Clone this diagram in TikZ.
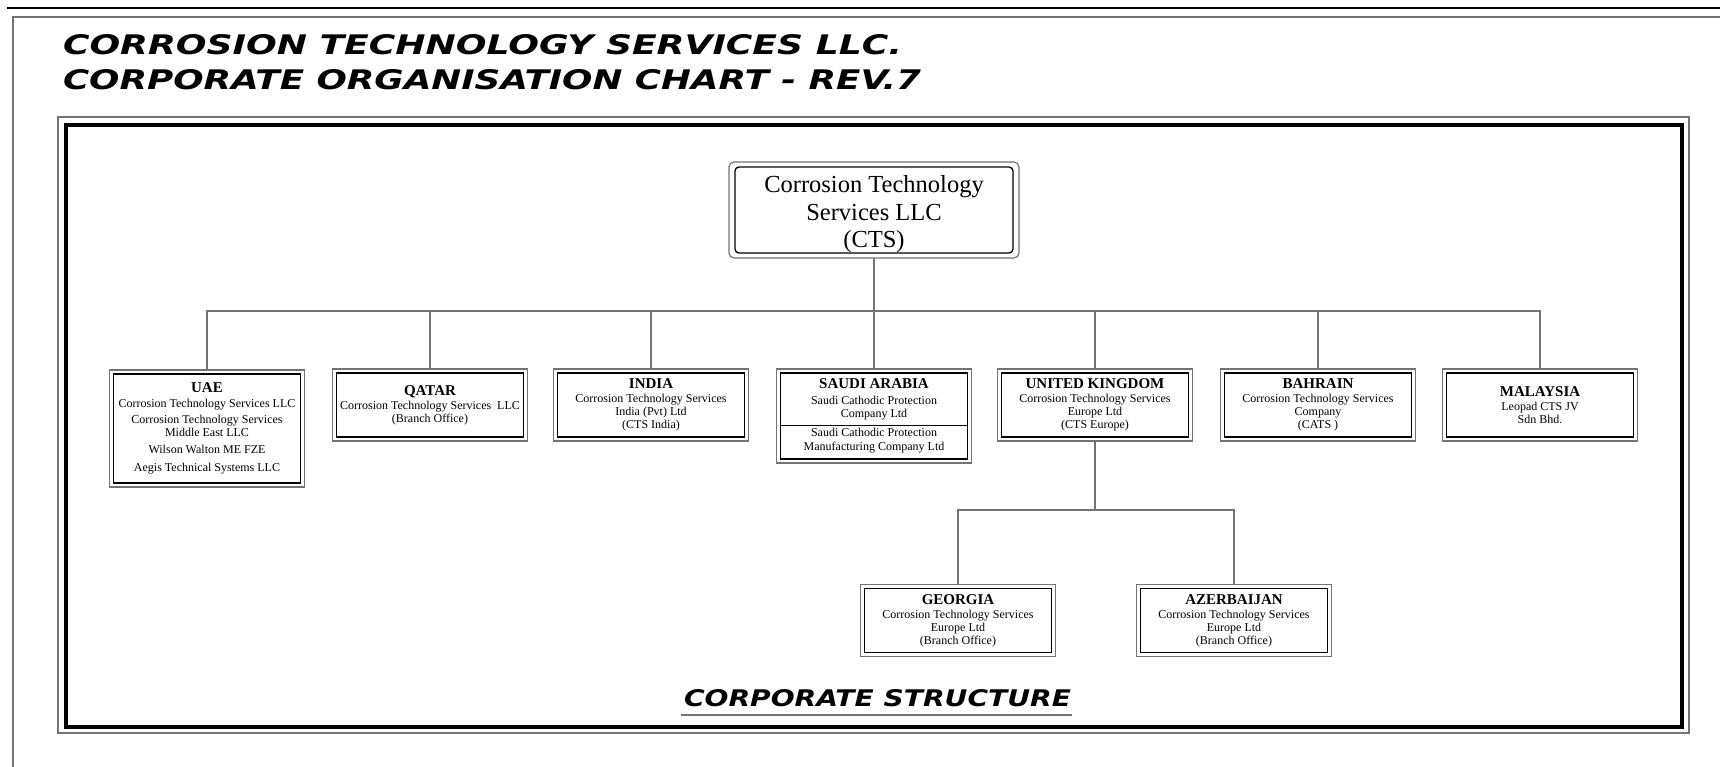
\documentclass[tikz,border=0pt]{standalone}
\usepackage{fontspec}
\usepackage{graphicx}
\setmainfont{Liberation Serif}
\newfontfamily\bannerfont{DejaVu Sans}
\colorlet{edge}{black!55}
\newcommand{\cname}[1]{{\fontsize{15}{16}\selectfont\bfseries #1}}

\begin{document}
\begin{tikzpicture}[x=1pt, y=-1pt,
	unit/.style={draw=edge, line width=1.2pt, minimum width=195pt, minimum height=72pt, inner sep=2pt, outer sep=0pt, align=center, font=\fontsize{12}{13}\selectfont},
	link/.style={draw=edge, line width=1.2pt},
	banner/.style={anchor=base west, inner sep=0pt, outer sep=0pt, font=\bannerfont\bfseries\itshape}]

	\useasboundingbox (0,0) rectangle (1720,767);

	% page frame
	\draw[line width=1.8pt] (7,8) -- (1720,8);
	\draw[edge, line width=1.4pt] (13,767) -- (13,17) -- (1720,17);

	\node[banner] (head1) at (63,55) {\resizebox{839pt}{20pt}{CORROSION TECHNOLOGY SERVICES LLC.}};
	\node[banner] (head2) at (63,90) {\resizebox{858pt}{20pt}{CORPORATE ORGANISATION CHART - REV.7}};

	% chart frame
	\draw[edge, line width=1.4pt] (58,117) rectangle (1689,733);
	\draw[line width=4.5pt] (66,125) rectangle (1682,727);

	\node[unit, rounded corners=5pt, minimum width=290pt, minimum height=96pt, font=\fontsize{24.5}{27.5}\selectfont] (cts) at (874,210) {\rule{0pt}{26pt}Corrosion Technology\\ Services LLC\\ (CTS)};
	\draw[line width=1.3pt, rounded corners=4pt] ([shift={(6pt,-5pt)}]cts.north west) rectangle ([shift={(-6pt,5pt)}]cts.south east);

	\node[unit, minimum height=117pt] (uae) at (207,428.5) {\cname{UAE}\\[2pt] Corrosion Technology Services LLC\\[3pt] Corrosion Technology Services\\ Middle East LLC\\[4pt] Wilson Walton ME FZE\\[5pt] Aegis Technical Systems LLC};
	\node[unit] (qatar) at (430,405) {\cname{QATAR}\\[1pt] Corrosion Technology Services~ LLC\\ (Branch Office)};
	\node[unit] (india) at (651,405) {\cname{INDIA}\\[1pt] Corrosion Technology Services\\ India (Pvt) Ltd\\ (CTS India)};
	\node[unit, minimum height=94pt] (saudi) at (874,416) {\cname{SAUDI ARABIA}\\[3pt] Saudi Cathodic Protection\\ Company Ltd\\[6pt] Saudi Cathodic Protection\\[1pt] Manufacturing Company Ltd};
	\node[unit] (uk) at (1095,405) {\cname{UNITED KINGDOM}\\[1pt] Corrosion Technology Services\\ Europe Ltd\\ (CTS Europe)};
	\node[unit] (bahrain) at (1318,405) {\cname{BAHRAIN}\\[1pt] Corrosion Technology Services\\ Company\\ (CATS )};
	\node[unit] (malaysia) at (1540,405) {\cname{MALAYSIA}\\[1pt] Leopad CTS JV\\ Sdn Bhd.};
	\node[unit] (georgia) at (958,620.5) {\cname{GEORGIA}\\[1pt] Corrosion Technology Services\\ Europe Ltd\\ (Branch Office)};
	\node[unit] (azerbaijan) at (1234,620.5) {\cname{AZERBAIJAN}\\[1pt] Corrosion Technology Services\\ Europe Ltd\\ (Branch Office)};

	\foreach \n in {uae,qatar,india,saudi,uk,bahrain,malaysia,georgia,azerbaijan}
	\draw[line width=1.6pt] ([shift={(4pt,-4pt)}]\n.north west) rectangle ([shift={(-4pt,4pt)}]\n.south east);

	\draw[line width=1pt] ([shift={(4pt,-9pt)}]saudi.west) -- ([shift={(-4pt,-9pt)}]saudi.east);

	\foreach \n in {uae,qatar,india,saudi,uk,bahrain,malaysia}
	\draw[link] (cts.south) -- ++(0,53) -| (\n.north);

	\foreach \n in {georgia,azerbaijan}
	\draw[link] (uk.south) -- ++(0,69) -| (\n.north);

	\node[banner] (footer) at (684,706) {\resizebox{387pt}{17pt}{CORPORATE STRUCTURE}};
	\draw[edge, line width=1.5pt] ([shift={(-3pt,-9pt)}]footer.base west) -- ([shift={(1pt,-9pt)}]footer.base east);

\end{tikzpicture}
\end{document}
